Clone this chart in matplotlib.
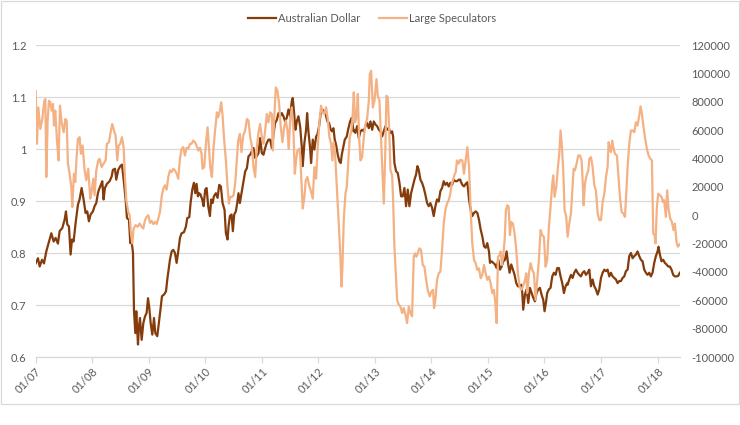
import numpy as np
import matplotlib
matplotlib.use("Agg")
import matplotlib.pyplot as plt
import matplotlib.dates as mdates
from matplotlib.patches import Rectangle
from datetime import datetime, timedelta

plt.rcParams['font.family'] = ['Lato', 'DejaVu Sans']

# ---------------- data (decimal year, value) ----------------
aud_dates = [
    2007.003, 2007.044, 2007.074, 2007.115, 2007.150, 2007.191, 2007.250, 2007.280, 2007.321, 2007.356,
    2007.397, 2007.427, 2007.474, 2007.515, 2007.539, 2007.562, 2007.592, 2007.621, 2007.645, 2007.674,
    2007.710, 2007.751, 2007.780, 2007.816, 2007.851, 2007.886, 2007.916, 2007.945, 2007.975, 2008.016,
    2008.045, 2008.075, 2008.104, 2008.122, 2008.157, 2008.181, 2008.204, 2008.228, 2008.263, 2008.310,
    2008.346, 2008.369, 2008.405, 2008.428, 2008.463, 2008.499, 2008.528, 2008.558, 2008.593, 2008.617,
    2008.652, 2008.675, 2008.699, 2008.723, 2008.740, 2008.764, 2008.781, 2008.811, 2008.829,
    2008.846, 2008.876, 2008.905, 2008.935, 2008.964, 2008.988, 2009.011, 2009.035, 2009.064, 2009.094,
    2009.117, 2009.152, 2009.188, 2009.211, 2009.235, 2009.270, 2009.306, 2009.329, 2009.353, 2009.376,
    2009.406, 2009.435, 2009.465, 2009.494, 2009.523, 2009.553, 2009.582, 2009.624, 2009.659, 2009.682,
    2009.718, 2009.741, 2009.771, 2009.800, 2009.824, 2009.847, 2009.871, 2009.894, 2009.918, 2009.947,
    2009.971, 2010.000, 2010.024, 2010.053, 2010.083, 2010.106, 2010.130, 2010.154, 2010.189, 2010.218,
    2010.248, 2010.277, 2010.307, 2010.342, 2010.366, 2010.395, 2010.413, 2010.436, 2010.466, 2010.489,
    2010.513, 2010.542, 2010.566, 2010.589, 2010.613, 2010.642, 2010.672, 2010.707,
    2010.737, 2010.766, 2010.796, 2010.825, 2010.854, 2010.884, 2010.913, 2010.943, 2010.972, 2011.002,
    2011.031, 2011.061, 2011.090, 2011.119, 2011.149, 2011.178, 2011.208, 2011.237, 2011.267, 2011.296,
    2011.326, 2011.355, 2011.384, 2011.414, 2011.443, 2011.473, 2011.502, 2011.532, 2011.549, 2011.573,
    2011.596, 2011.620, 2011.649, 2011.679, 2011.708, 2011.726, 2011.755, 2011.785, 2011.803, 2011.826,
    2011.856, 2011.873, 2011.903, 2011.932, 2011.962, 2011.985, 2012.015, 2012.044, 2012.073, 2012.103,
    2012.132, 2012.162, 2012.191, 2012.221, 2012.244, 2012.268, 2012.291, 2012.315, 2012.344, 2012.374,
    2012.397, 2012.415, 2012.444, 2012.468, 2012.503, 2012.533, 2012.562, 2012.592, 2012.621,
    2012.627, 2012.656, 2012.686, 2012.715, 2012.745, 2012.774, 2012.804, 2012.833, 2012.862, 2012.892,
    2012.921, 2012.951, 2012.980, 2013.010, 2013.039, 2013.069, 2013.098, 2013.127, 2013.157, 2013.186,
    2013.216, 2013.245, 2013.275, 2013.304, 2013.322, 2013.345, 2013.375, 2013.404, 2013.434, 2013.463,
    2013.493, 2013.522, 2013.551, 2013.581, 2013.610, 2013.640, 2013.669, 2013.699, 2013.728, 2013.752,
    2013.775, 2013.805, 2013.834, 2013.864, 2013.893, 2013.923, 2013.952, 2013.981, 2014.011, 2014.040,
    2014.070, 2014.099, 2014.129, 2014.158, 2014.188, 2014.217, 2014.246, 2014.276, 2014.305, 2014.335,
    2014.364, 2014.394, 2014.423, 2014.453, 2014.482, 2014.511,
    2014.517, 2014.547, 2014.576, 2014.606, 2014.635, 2014.665, 2014.694, 2014.723, 2014.753, 2014.782,
    2014.812, 2014.841, 2014.871, 2014.900, 2014.930, 2014.959, 2014.988, 2015.018, 2015.036, 2015.065,
    2015.094, 2015.124, 2015.153, 2015.183, 2015.212, 2015.242, 2015.271, 2015.301, 2015.330, 2015.354,
    2015.383, 2015.412, 2015.442, 2015.471, 2015.501, 2015.530, 2015.560, 2015.589, 2015.607, 2015.624,
    2015.654, 2015.683, 2015.713, 2015.742, 2015.772, 2015.801, 2015.831, 2015.860, 2015.889, 2015.919,
    2015.948, 2015.978, 2016.001, 2016.025, 2016.048, 2016.078, 2016.107, 2016.137, 2016.166, 2016.196,
    2016.225, 2016.255, 2016.284, 2016.314, 2016.343, 2016.372, 2016.402,
    2016.408, 2016.437, 2016.467, 2016.496, 2016.525, 2016.555, 2016.584, 2016.614, 2016.643, 2016.673,
    2016.702, 2016.732, 2016.761, 2016.791, 2016.820, 2016.849, 2016.879, 2016.908, 2016.938, 2016.967,
    2016.997, 2017.026, 2017.056, 2017.085, 2017.114, 2017.144, 2017.173, 2017.203, 2017.232, 2017.262,
    2017.291, 2017.320, 2017.350, 2017.379, 2017.409, 2017.438, 2017.468, 2017.497, 2017.527, 2017.556,
    2017.586, 2017.615, 2017.644, 2017.674, 2017.703, 2017.733, 2017.762, 2017.792, 2017.821, 2017.851,
    2017.880, 2017.909, 2017.939, 2017.968, 2017.998, 2018.015, 2018.039, 2018.068, 2018.098, 2018.127,
    2018.157, 2018.186, 2018.216, 2018.245, 2018.274, 2018.304, 2018.333, 2018.363, 2018.392,
]
aud_values = [
    0.780, 0.790, 0.774, 0.787, 0.780, 0.803, 0.826, 0.838, 0.822, 0.829,
    0.818, 0.842, 0.848, 0.864, 0.880, 0.855, 0.851, 0.797, 0.826, 0.822,
    0.858, 0.893, 0.903, 0.925, 0.903, 0.877, 0.880, 0.861, 0.874, 0.880,
    0.890, 0.896, 0.915, 0.922, 0.931, 0.938, 0.903, 0.925, 0.933, 0.938,
    0.947, 0.960, 0.962, 0.941, 0.960, 0.967, 0.970, 0.941, 0.903, 0.867,
    0.864, 0.819, 0.822, 0.800, 0.691, 0.646, 0.688, 0.624, 0.659,
    0.675, 0.633, 0.665, 0.678, 0.685, 0.713, 0.694, 0.665, 0.643, 0.675,
    0.646, 0.640, 0.672, 0.694, 0.717, 0.720, 0.726, 0.749, 0.768, 0.787,
    0.803, 0.806, 0.800, 0.781, 0.803, 0.829, 0.838, 0.840, 0.851, 0.867,
    0.869, 0.896, 0.922, 0.935, 0.915, 0.933, 0.909, 0.915, 0.912, 0.903,
    0.890, 0.922, 0.925, 0.890, 0.871, 0.903, 0.896, 0.909, 0.915, 0.906,
    0.931, 0.928, 0.896, 0.883, 0.838, 0.826, 0.851, 0.871, 0.874, 0.842,
    0.874, 0.880, 0.896, 0.915, 0.896, 0.915, 0.935, 0.957,
    0.963, 0.986, 0.989, 0.996, 1.002, 0.983, 0.986, 0.992, 1.021, 0.992,
    0.989, 1.002, 1.012, 1.018, 1.018, 1.002, 1.028, 1.050, 1.056, 1.069,
    1.063, 1.069, 1.063, 1.053, 1.060, 1.076, 1.063, 1.092, 1.098, 1.069,
    1.037, 1.053, 1.063, 1.044, 1.005, 0.967, 1.012, 1.037, 1.069, 1.034,
    1.002, 0.973, 1.018, 0.999, 1.024, 1.028, 1.044, 1.069, 1.076, 1.072,
    1.066, 1.053, 1.050, 1.037, 1.034, 1.040, 1.018, 1.008, 0.989, 0.976,
    0.973, 0.989, 1.005, 1.018, 1.024, 1.040, 1.053, 1.060, 1.034,
    1.037, 1.031, 1.044, 1.021, 1.034, 1.037, 1.034, 1.044, 1.050, 1.040,
    1.053, 1.037, 1.053, 1.047, 1.044, 1.037, 1.034, 1.024, 1.034, 1.044,
    1.037, 1.040, 1.031, 1.034, 1.024, 0.973, 0.957, 0.954, 0.935, 0.909,
    0.909, 0.925, 0.890, 0.922, 0.890, 0.915, 0.928, 0.941, 0.951, 0.967,
    0.960, 0.941, 0.935, 0.925, 0.912, 0.896, 0.890, 0.896, 0.887, 0.871,
    0.890, 0.903, 0.899, 0.919, 0.925, 0.938, 0.931, 0.935, 0.928, 0.935,
    0.931, 0.941, 0.938, 0.938, 0.941, 0.941,
    0.938, 0.931, 0.928, 0.933, 0.936, 0.903, 0.883, 0.871, 0.877, 0.880,
    0.877, 0.864, 0.845, 0.832, 0.813, 0.810, 0.819, 0.803, 0.781, 0.784,
    0.781, 0.778, 0.771, 0.787, 0.768, 0.774, 0.784, 0.787, 0.803, 0.781,
    0.762, 0.778, 0.768, 0.758, 0.742, 0.736, 0.736, 0.739, 0.723, 0.691,
    0.720, 0.730, 0.704, 0.733, 0.723, 0.714, 0.707, 0.723, 0.730, 0.733,
    0.720, 0.710, 0.688, 0.704, 0.723, 0.730, 0.733, 0.755, 0.762, 0.758,
    0.771, 0.771, 0.755, 0.742, 0.723, 0.736, 0.742,
    0.739, 0.749, 0.758, 0.752, 0.762, 0.768, 0.762, 0.758, 0.755, 0.762,
    0.765, 0.758, 0.762, 0.768, 0.736, 0.749, 0.736, 0.730, 0.720, 0.730,
    0.752, 0.762, 0.768, 0.765, 0.768, 0.755, 0.762, 0.755, 0.752, 0.749,
    0.742, 0.746, 0.746, 0.752, 0.755, 0.765, 0.768, 0.794, 0.800, 0.790,
    0.794, 0.797, 0.803, 0.794, 0.787, 0.784, 0.768, 0.762, 0.758, 0.762,
    0.755, 0.762, 0.781, 0.794, 0.803, 0.812, 0.797, 0.784, 0.787, 0.781,
    0.778, 0.774, 0.774, 0.768, 0.758, 0.755, 0.755, 0.756, 0.762,
]

spec_dates = [
    2007.003, 2007.026, 2007.050, 2007.085, 2007.121, 2007.156, 2007.174, 2007.191, 2007.215, 2007.238,
    2007.262, 2007.286, 2007.309, 2007.327, 2007.350, 2007.380, 2007.409, 2007.433, 2007.462, 2007.498,
    2007.527, 2007.551, 2007.574, 2007.604, 2007.633, 2007.651, 2007.680, 2007.704, 2007.727, 2007.751,
    2007.780, 2007.804, 2007.833, 2007.869, 2007.898, 2007.933, 2007.969, 2007.992, 2008.022, 2008.045,
    2008.075, 2008.110, 2008.134, 2008.169, 2008.204, 2008.240, 2008.263, 2008.299, 2008.328, 2008.357,
    2008.387, 2008.416, 2008.446, 2008.469, 2008.499, 2008.528, 2008.558, 2008.581, 2008.605, 2008.640,
    2008.664, 2008.687, 2008.711, 2008.734, 2008.770, 2008.805, 2008.840,
    2008.876, 2008.905, 2008.935, 2008.964, 2008.993, 2009.023, 2009.052, 2009.082, 2009.111, 2009.141,
    2009.170, 2009.200, 2009.229, 2009.258, 2009.288, 2009.317, 2009.347, 2009.376, 2009.406, 2009.435,
    2009.465, 2009.494, 2009.523, 2009.553, 2009.582, 2009.612, 2009.641, 2009.671, 2009.700, 2009.730,
    2009.759, 2009.788, 2009.818, 2009.847, 2009.877, 2009.906, 2009.936, 2009.953, 2009.983, 2010.012,
    2010.042, 2010.065, 2010.089, 2010.118, 2010.148, 2010.177, 2010.207, 2010.230, 2010.260, 2010.283,
    2010.307, 2010.336, 2010.366, 2010.395, 2010.419, 2010.442, 2010.472, 2010.501, 2010.530, 2010.554,
    2010.583, 2010.613, 2010.642, 2010.672, 2010.707,
    2010.737, 2010.766, 2010.796, 2010.825, 2010.854, 2010.884, 2010.913, 2010.943, 2010.972, 2011.002,
    2011.031, 2011.061, 2011.090, 2011.119, 2011.149, 2011.178, 2011.196, 2011.225, 2011.249, 2011.278,
    2011.308, 2011.337, 2011.367, 2011.396, 2011.426, 2011.455, 2011.479, 2011.502, 2011.532, 2011.561,
    2011.585, 2011.608, 2011.632, 2011.661, 2011.679, 2011.708, 2011.726, 2011.755, 2011.779, 2011.808,
    2011.838, 2011.867, 2011.903, 2011.932, 2011.962, 2011.991, 2012.020, 2012.050, 2012.079, 2012.109,
    2012.138, 2012.168, 2012.197, 2012.227, 2012.250, 2012.274, 2012.297, 2012.327, 2012.356, 2012.386,
    2012.409, 2012.427, 2012.450, 2012.480, 2012.503, 2012.527, 2012.556, 2012.586, 2012.609, 2012.627,
    2012.650, 2012.674, 2012.698, 2012.721, 2012.745, 2012.774, 2012.804, 2012.833, 2012.862, 2012.892,
    2012.910, 2012.933, 2012.963, 2012.992, 2013.027, 2013.051, 2013.080, 2013.110, 2013.133, 2013.157,
    2013.180, 2013.204, 2013.228, 2013.251, 2013.275, 2013.304, 2013.322, 2013.345, 2013.369, 2013.393,
    2013.422, 2013.451, 2013.481, 2013.510, 2013.540, 2013.569, 2013.599, 2013.628, 2013.657, 2013.687,
    2013.711, 2013.734, 2013.758, 2013.787, 2013.816, 2013.846, 2013.875, 2013.899, 2013.934, 2013.970,
    2013.999, 2014.029, 2014.046, 2014.070, 2014.099, 2014.129, 2014.158, 2014.188, 2014.217, 2014.246,
    2014.276, 2014.305, 2014.335, 2014.358, 2014.382, 2014.405, 2014.429, 2014.453, 2014.482, 2014.511,
    2014.517, 2014.547, 2014.576, 2014.606, 2014.635, 2014.665, 2014.694, 2014.723, 2014.753, 2014.782,
    2014.812, 2014.841, 2014.871, 2014.900, 2014.930, 2014.959, 2014.988, 2015.018, 2015.047, 2015.077,
    2015.106, 2015.130, 2015.153, 2015.177, 2015.206, 2015.224, 2015.248, 2015.271, 2015.295, 2015.318,
    2015.342, 2015.365, 2015.389, 2015.412, 2015.442, 2015.471, 2015.501, 2015.530, 2015.560, 2015.589,
    2015.619, 2015.648, 2015.677, 2015.695, 2015.725, 2015.754, 2015.784, 2015.813, 2015.842, 2015.872,
    2015.901, 2015.931, 2015.960, 2015.990, 2016.019, 2016.048, 2016.078, 2016.107, 2016.137, 2016.155,
    2016.178, 2016.208, 2016.237, 2016.261, 2016.284, 2016.308, 2016.331, 2016.355, 2016.384,
    2016.408, 2016.437, 2016.467, 2016.496, 2016.514, 2016.537, 2016.567, 2016.596, 2016.626, 2016.655,
    2016.673, 2016.690, 2016.714, 2016.743, 2016.773, 2016.791, 2016.820, 2016.849, 2016.879, 2016.908,
    2016.938, 2016.967, 2016.997, 2017.026, 2017.056, 2017.085, 2017.114, 2017.132, 2017.150, 2017.173,
    2017.197, 2017.220, 2017.244, 2017.279, 2017.303, 2017.332, 2017.362, 2017.391, 2017.421, 2017.444,
    2017.468, 2017.497, 2017.527, 2017.556, 2017.586, 2017.615, 2017.644, 2017.674, 2017.697, 2017.721,
    2017.750, 2017.780, 2017.809, 2017.839, 2017.868, 2017.898, 2017.921, 2017.945, 2017.962, 2017.986,
    2018.010, 2018.039, 2018.068, 2018.092, 2018.115, 2018.145, 2018.168, 2018.192, 2018.221, 2018.251,
    2018.280, 2018.304, 2018.333, 2018.357, 2018.380, 2018.404,
]
spec_values = [
    87700, 50300, 76000, 60800, 67800, 80700, 81900, 26900, 66700, 80700,
    79600, 73700, 78400, 63200, 73700, 52600, 38600, 77200, 65500, 58500,
    67800, 66700, 36300, 29200, 19900, 5800, 29200, 23400, 40900, 53800,
    55000, 43300, 49100, 31600, 24600, 32700, 11700, 16400, 25700, 14000,
    31600, 38600, 39800, 33900, 36300, 38600, 50300, 51500, 58500, 64300,
    59700, 56100, 38600, 49100, 50300, 55000, 48000, 26900, 10500, 2300,
    0, -12900, -19900, -9400, -7000, -8200, -5900,
    -8200, -9400, -3500, -1200, 0, -5400, -4000, -6300, -4700, -6300,
    -2400, 2300, 12900, 18700, 21100, 18000, 26900, 31600, 30400, 32700,
    31600, 29200, 25700, 39800, 46800, 48000, 42100, 47500, 46800, 50300,
    50300, 52600, 51500, 49100, 45600, 47500, 43300, 32700, 33900, 50300,
    62000, 48000, 33900, 26900, 48000, 60800, 72500, 69000, 73700, 79600,
    70200, 52600, 38600, 19900, 8200, 12900, 12900, 14000, 22200, 36300,
    52600, 57300, 44500, 56100, 59700,
    67800, 66700, 55000, 49100, 33900, 26900, 48000, 58500, 64300, 55000,
    50300, 59700, 71400, 65500, 72500, 71400, 45600, 71400, 90100, 87700,
    78400, 62000, 51500, 62000, 66700, 59700, 46800, 66700, 76000, 59700,
    29200, 38600, 45600, 46800, 43300, 19900, 4700, 12900, 24600, 26900,
    21100, 17500, 11700, 33900, 25700, 48000, 65500, 77200, 72500, 71400,
    76000, 67800, 55000, 50300, 38600, 51500, 43300, 19900, -1200, -24600,
    -50300, -36300, -3500, 15200, 19900, 36300, 55000, 59700, 71400, 86600,
    65500, 69000, 85400, 55000, 38600, 40900, 55000, 64300, 67800, 80700,
    99400, 101800, 76000, 80700, 95900, 84200, 80700, 52600, 31600, 8200,
    38600, 84200, 83100, 62000, 31600, 28100, 10500, -22200, -41000, -59700,
    -63200, -64400, -69000, -65500, -70200, -76100, -64400, -69000, -71400, -29300,
    -26900, -29300, -26900, -23400, -24600, -35100, -36300, -43300, -52700, -57300,
    -53800, -52700, -65500, -59700, -45600, -41000, -39800, -24600, -5900, 3500,
    8200, 10500, 15200, 22200, 24600, 28100, 30400, 38600, 36300, 39100,
    38600, 38600, 29200, 38600, 48000, 33900, 3500, -19900, -31600, -33900,
    -38600, -37500, -44500, -42100, -35100, -41000, -45600, -43300, -48000, -55000,
    -52700, -62000, -76100, -29300, -28100, -25700, -35100, -28100, -17600, 3500,
    7000, 5800, -14000, -4700, -5900, -12900, -24600, -41000, -50300, -52700,
    -50300, -46800, -41000, -55000, -41000, -33900, -38600, -41000, -59700, -45600,
    -31600, -10500, -14000, -15200, -36300, -31600, -8200, 5800, 22200, 28100,
    12900, 19900, 33900, 43300, 59700, 48000, 31600, 3500, -1200,
    -15200, -5900, 1200, 19900, 32700, 31600, 36300, 42100, 42100, 38600,
    24600, 7000, 22200, 28100, 31600, 39800, 40900, 33900, 21100, 17500,
    1200, -3500, -3500, 9300, 15200, 26900, 33900, 51500, 48000, 44500,
    52600, 46800, 43300, 42100, 29200, 12900, 2300, 1200, -1200, 15200,
    33900, 50300, 59700, 59700, 58500, 65500, 63200, 70200, 76700, 71400,
    62000, 53800, 46800, 42100, 39800, 38600, -12900, -14000, -19900, 5800,
    15200, 14000, 12900, 9300, 10500, -1200, 17500, 4700, -2300, -4700,
    -10500, -5900, -18700, -22200, -21100, -19900,
]

left_ticks = [0.6, 0.7, 0.8, 0.9, 1.0, 1.1, 1.2]
right_ticks = [-100000, -80000, -60000, -40000, -20000, 0, 20000, 40000, 60000, 80000, 100000, 120000]
year_ticks = list(range(2007, 2019))
series_names = ["Australian Dollar", "Large Speculators"]


def to_dt(y):
    yr = int(y)
    start = datetime(yr, 1, 1)
    days = (datetime(yr + 1, 1, 1) - start).days
    return start + timedelta(days=(y - yr) * days)


aud_dt = [to_dt(d) for d in aud_dates]
spec_dt = [to_dt(d) for d in spec_dates]

TXT = '#595959'
GRID = '#D9D9D9'
C_AUD = '#843C0C'
C_SPEC = '#F4B183'
FS = 8.0

fig = plt.figure(figsize=(7.4, 4.25), dpi=100)
ax = fig.add_axes([35.5 / 740, 1 - 357 / 425, (680 - 35.5) / 740, (357 - 45) / 425])
ax2 = ax.twinx()

l1, = ax.plot(aud_dt, aud_values, color=C_AUD, lw=1.6, solid_joinstyle='round', zorder=3)
l2, = ax2.plot(spec_dt, spec_values, color=C_SPEC, lw=1.6, solid_joinstyle='round', zorder=3)

ax.set_ylim(0.6, 1.2)
ax.set_yticks(left_ticks)
ax.set_yticklabels(['0.6', '0.7', '0.8', '0.9', '1', '1.1', '1.2'])
ax2.set_ylim(-100000, 120000)
ax2.set_yticks(right_ticks)
ax2.set_yticklabels([str(v) for v in right_ticks])

ax.set_xlim(aud_dt[0], to_dt(2018.395))
ax.set_xticks([datetime(y, 1, 1) for y in year_ticks])
ax.xaxis.set_major_formatter(mdates.DateFormatter('%m/%y'))

ax.grid(axis='y', color=GRID, lw=0.9)
ax.set_axisbelow(True)
for a in (ax, ax2):
    for s in ('top', 'left', 'right', 'bottom'):
        a.spines[s].set_visible(False)
ax.spines['bottom'].set_visible(True)
ax.spines['bottom'].set_color(GRID)
ax.spines['bottom'].set_linewidth(0.9)

ax.tick_params(axis='y', length=0, pad=6.5, labelsize=FS, labelcolor=TXT)
ax2.tick_params(axis='y', length=0, pad=8.3, labelsize=FS, labelcolor=TXT)
ax.tick_params(axis='x', length=4, width=0.9, color=GRID, pad=2.5, labelsize=FS, labelcolor=TXT)
for lab in ax.get_xticklabels():
    lab.set_rotation(45)
    lab.set_ha('right')
    lab.set_va('top')
    lab.set_rotation_mode('anchor')

fig.legend([l1, l2], series_names, loc='center', bbox_to_anchor=(0.503, 1 - 18 / 425),
           ncol=2, frameon=False, fontsize=FS, labelcolor=TXT, handlelength=2.5,
           handletextpad=0.2, columnspacing=1.7)

fig.patches.append(Rectangle((0.5 / 740, 1 - 404 / 425), 738.5 / 740, 403 / 425,
                             transform=fig.transFigure, fill=False, edgecolor=GRID, lw=0.9))

fig.savefig('out.png', dpi=100, facecolor='white')
